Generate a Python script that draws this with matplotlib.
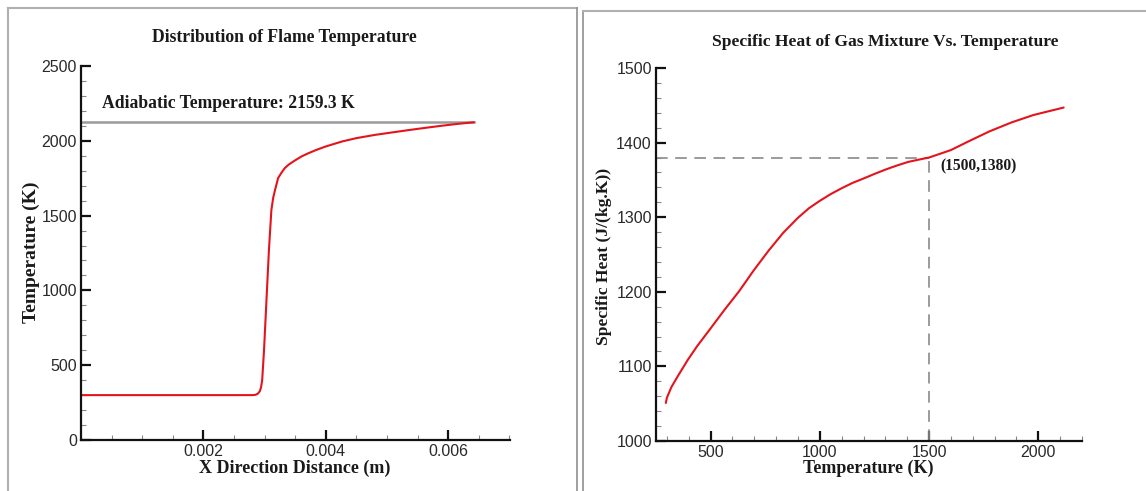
import matplotlib
matplotlib.use("Agg")
import matplotlib.pyplot as plt
from matplotlib.ticker import MultipleLocator
from matplotlib.lines import Line2D

# ---- data: flame temperature distribution ----
flame_x = [0.0, 0.0010, 0.0020, 0.0028, 0.00285, 0.00289, 0.00292, 0.00294, 0.00296,
           0.00299, 0.00303, 0.00307, 0.00311, 0.00314, 0.00317, 0.00322, 0.00328,
           0.00333, 0.00340, 0.00350, 0.00360, 0.00372, 0.00385, 0.00399, 0.00426,
           0.00450, 0.00481, 0.00510, 0.00536, 0.00565, 0.00590, 0.00615, 0.00642]
flame_T = [300, 300, 300, 300, 302, 310, 325, 350, 401,
           601, 936, 1270, 1537, 1620, 1671, 1751, 1790,
           1818, 1843, 1870, 1895, 1918, 1940, 1961, 1995,
           2018, 2040, 2057, 2072, 2088, 2101, 2113, 2124]
adiabatic_T = 2126
adiabatic_label = "Adiabatic Temperature: 2159.3 K"

# ---- data: specific heat of gas mixture ----
cp_T = [295, 300, 320, 350, 396, 438, 500, 564, 631, 698, 765, 832, 899, 950, 1000,
        1050, 1101, 1150, 1201, 1250, 1302, 1350, 1403, 1450, 1500, 1550, 1600, 1676,
        1776, 1877, 1978, 2116]
cp_val = [1051, 1058, 1072, 1087, 1109, 1127, 1151, 1176, 1201, 1229, 1255, 1279,
          1299, 1312, 1322, 1331, 1339, 1346, 1352, 1358, 1364, 1369, 1374, 1377,
          1380, 1385, 1390, 1401, 1415, 1427, 1437, 1447]
mark_T, mark_cp = 1500, 1380
mark_label = "(1500,1380)"

W, H = 1146, 491
fig = plt.figure(figsize=(W / 100, H / 100), dpi=100)
fig.patch.set_facecolor("white")

def fx(px):
    return px / W

def fy(py):
    return 1 - py / H

serif = "Liberation Serif"
sans = "Liberation Sans"
red = "#e3141c"
txt = "#1a1a1a"

# panel frames
frame_col = "#b0b0b0"
fig.add_artist(Line2D([fx(7.5), fx(7.5)], [fy(7.5), 0], color=frame_col, lw=1.5))
fig.add_artist(Line2D([fx(7.5), fx(577)], [fy(7.5), fy(7.5)], color=frame_col, lw=1.5))
fig.add_artist(Line2D([fx(577), fx(577)], [fy(7.5), 0], color="#909090", lw=1.2))
fig.add_artist(Line2D([fx(583), fx(583)], [fy(10.5), 0], color="#909090", lw=1.2))
fig.add_artist(Line2D([fx(583), 1], [fy(10.5), fy(10.5)], color=frame_col, lw=1.5))

def style_axes(ax):
    for s in ["top", "right"]:
        ax.spines[s].set_visible(False)
    for s in ["left", "bottom"]:
        ax.spines[s].set_linewidth(1.6)
        ax.spines[s].set_color("#111111")
    ax.tick_params(which="major", direction="in", length=7, width=1.6, color="#111111",
                   labelsize=11.5, labelcolor="#2a2a2a", pad=3)
    ax.tick_params(which="minor", direction="in", length=3.5, width=0.8, color="#888888")
    for lab in ax.get_xticklabels() + ax.get_yticklabels():
        lab.set_fontfamily(sans)

# ---- left panel ----
ax1 = fig.add_axes([fx(81), fy(440), fx(509.5) - fx(81), fy(66) - fy(440)])
ax1.plot(flame_x, flame_T, color=red, lw=1.5, solid_capstyle="round")
ax1.plot([0, flame_x[-1]], [adiabatic_T, adiabatic_T], color="#9a9a9a", lw=1.8, zorder=1)
ax1.set_xlim(0, 0.007)
ax1.set_ylim(0, 2500)
ax1.xaxis.set_major_locator(MultipleLocator(0.002))
ax1.xaxis.set_minor_locator(MultipleLocator(0.0005))
ax1.yaxis.set_major_locator(MultipleLocator(500))
ax1.yaxis.set_minor_locator(MultipleLocator(100))
ax1.set_xticks([0.002, 0.004, 0.006])
ax1.set_xticklabels(["0.002", "0.004", "0.006"])
style_axes(ax1)
ax1.text(0.000338, 2246, adiabatic_label, fontfamily=serif, fontweight="bold",
         fontsize=12.7, color=txt, va="center", ha="left")

fig.text(fx(284), fy(37), "Distribution of Flame Temperature", fontfamily=serif,
         fontweight="bold", fontsize=12.7, ha="center", va="center", color=txt)
fig.text(fx(295), fy(468), "X Direction Distance (m)", fontfamily=serif,
         fontweight="bold", fontsize=13, ha="center", va="center", color=txt)
fig.text(fx(31), fy(252), "Temperature (K)", fontfamily=serif, fontweight="bold",
         fontsize=14, ha="center", va="center", rotation=90, color=txt)

# ---- right panel ----
ax2 = fig.add_axes([fx(656), fy(441), fx(1082) - fx(656), fy(68) - fy(441)])
ax2.plot(cp_T, cp_val, color=red, lw=1.5, solid_capstyle="round", zorder=3)
ax2.plot([250, mark_T], [mark_cp, mark_cp], color="#8a8a8a", lw=1.2,
         dashes=(7, 4.5), zorder=2)
ax2.plot([mark_T, mark_T], [1000, mark_cp], color="#8a8a8a", lw=1.2,
         dashes=(7, 4.5), zorder=2)
ax2.set_xlim(250, 2200)
ax2.set_ylim(1000, 1500)
ax2.xaxis.set_major_locator(MultipleLocator(500))
ax2.xaxis.set_minor_locator(MultipleLocator(100))
ax2.yaxis.set_major_locator(MultipleLocator(100))
ax2.yaxis.set_minor_locator(MultipleLocator(20))
style_axes(ax2)
ax2.text(1550, 1368.6, mark_label, fontfamily=serif, fontweight="bold", fontsize=11.2,
         color=txt, va="center", ha="left")

fig.text(fx(885), fy(42), "Specific Heat of Gas Mixture Vs. Temperature", fontfamily=serif,
         fontweight="bold", fontsize=12.6, ha="center", va="center", color=txt)
fig.text(fx(868), fy(468), "Temperature (K)", fontfamily=serif,
         fontweight="bold", fontsize=13, ha="center", va="center", color=txt)
fig.text(fx(604), fy(256), "Specific Heat (J/(kg.K))", fontfamily=serif, fontweight="bold",
         fontsize=12.6, ha="center", va="center", rotation=90, color=txt)

fig.savefig("out.png", dpi=100, facecolor="white")
